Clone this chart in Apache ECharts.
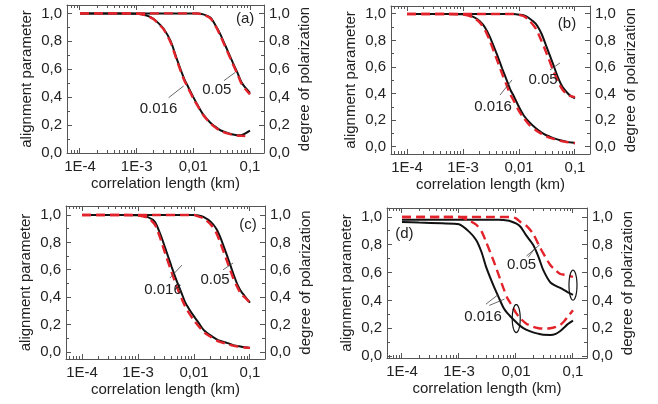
<!DOCTYPE html>
<html><head><meta charset="utf-8">
<script src="https://cdn.jsdelivr.net/npm/echarts@6/dist/echarts.min.js"></script>
<style>html,body{margin:0;padding:0;background:#fff}#c{width:658px;height:404px}</style>
</head><body><div id="c"></div>
<script>
// ---- data ----
const xKm = [1e-4, 2e-4, 5e-4, 1e-3, 1.5e-3, 2e-3, 2.5e-3, 3e-3, 4e-3, 5e-3, 6e-3, 7e-3, 8e-3,
             1e-2, 1.2e-2, 1.5e-2, 2e-2, 2.5e-2, 3e-2, 4e-2, 5e-2, 6e-2, 7e-2, 8e-2, 1e-1];
const xTickValues = [1e-4, 1e-3, 1e-2, 1e-1];
const xTickLabels = ['1E-4', '1E-3', '0,01', '0,1'];
const yTickValues = [0, 0.2, 0.4, 0.6, 0.8, 1.0];

const a016Black = [1,1,1,0.998,0.985,0.96,0.925,0.89,0.80,0.685,0.595,0.525,0.478,0.40,0.34,0.275,0.217,0.185,0.163,0.143,0.133,0.128,0.128,0.137,0.16];
const a016Red   = [1,1,1,0.998,0.984,0.958,0.92,0.885,0.79,0.675,0.585,0.515,0.47,0.39,0.335,0.27,0.213,0.18,0.16,0.14,0.13,0.125,0.123,0.122,0.12];
const a05Black  = [1,1,1,1,1,1,1,1,1,1,1,1,1,1,1,0.993,0.97,0.91,0.85,0.735,0.645,0.575,0.51,0.475,0.43];
const a05Red    = [1,1,1,1,1,1,1,1,1,1,1,1,1,1,0.999,0.99,0.965,0.905,0.84,0.725,0.635,0.565,0.50,0.465,0.42];

const b016Black = [1,1,1,0.997,0.98,0.945,0.895,0.83,0.70,0.59,0.505,0.43,0.385,0.30,0.24,0.19,0.14,0.11,0.09,0.068,0.055,0.046,0.04,0.036,0.03];
const b016Red   = [1,1,1,0.995,0.975,0.935,0.875,0.80,0.66,0.55,0.465,0.395,0.35,0.27,0.22,0.17,0.125,0.10,0.082,0.062,0.05,0.042,0.037,0.034,0.028];
const b05Black  = [1,1,1,1,1,1,1,1,1,1,1,1,1,0.995,0.99,0.97,0.925,0.855,0.77,0.63,0.52,0.45,0.415,0.39,0.365];
const b05Red    = [1,1,1,1,1,1,1,1,1,1,1,1,1,0.993,0.985,0.955,0.89,0.80,0.72,0.585,0.49,0.43,0.40,0.385,0.375];

const c016Black = [1,1,1,0.998,0.985,0.95,0.86,0.77,0.62,0.51,0.43,0.36,0.32,0.26,0.215,0.16,0.12,0.095,0.08,0.065,0.05,0.044,0.038,0.035,0.03];
const c016Red   = [1,1,1,0.997,0.98,0.93,0.83,0.73,0.58,0.47,0.39,0.33,0.29,0.23,0.19,0.145,0.11,0.085,0.072,0.058,0.047,0.04,0.035,0.033,0.03];
const c05Black  = [1,1,1,1,1,1,1,1,1,1,1,1,1,1,0.997,0.985,0.95,0.90,0.83,0.69,0.575,0.49,0.44,0.41,0.36];
const c05Red    = [1,1,1,1,1,1,1,1,1,1,1,1,1,1,0.99,0.975,0.93,0.87,0.79,0.65,0.54,0.47,0.42,0.40,0.36];

const d016Black = [0.965,0.96,0.955,0.948,0.895,0.835,0.745,0.64,0.51,0.42,0.35,0.31,0.285,0.245,0.215,0.19,0.17,0.16,0.153,0.152,0.16,0.18,0.205,0.228,0.255];
const d016Red   = [1,1,1,1,0.975,0.945,0.895,0.82,0.69,0.58,0.49,0.42,0.38,0.31,0.27,0.235,0.21,0.20,0.198,0.20,0.21,0.225,0.25,0.28,0.33];
const d05Black  = [0.98,0.98,0.98,0.98,0.98,0.98,0.98,0.98,0.98,0.98,0.978,0.975,0.97,0.955,0.93,0.87,0.80,0.71,0.62,0.53,0.505,0.49,0.475,0.46,0.44];
const d05Red    = [1,1,1,1,1,1,1,1,1,1,1,1,1,0.99,0.965,0.94,0.88,0.80,0.74,0.655,0.615,0.59,0.585,0.58,0.57];

const panelLetters = ['(a)', '(b)', '(c)', '(d)'];
const curveLabels = ['0.016', '0.05'];
const xTitle = 'correlation length (km)';
const yLeftTitle = 'alignment parameter';
const yRightTitle = 'degree of polarization';

// ---- layout ----
const panels = [
  {series: [a016Black, a016Red, a05Black, a05Red], left: 67, top: 5, width: 197, height: 148, xlog: [-4.229, -0.753], y: [0, 1.06]},
  {series: [b016Black, b016Red, b05Black, b05Red], left: 391, top: 6, width: 199, height: 148, xlog: [-4.286, -0.732], y: [-0.053, 1.06]},
  {series: [c016Black, c016Red, c05Black, c05Red], left: 66, top: 206, width: 199, height: 153, xlog: [-4.286, -0.732], y: [-0.051, 1.066]},
  {series: [d016Black, d016Red, d05Black, d05Red], left: 387, top: 208, width: 200, height: 150, xlog: [-4.263, -0.754], y: [-0.014, 1.065]}
];
// annotation anchors (data coordinates) per panel
const annot = [
  {letter: [0.0818, 0.964], t016: [2.43e-3, 0.317], l016: [[[3.66e-3, 0.396], [6.76e-3, 0.48]]],
   t05: [0.026, 0.453], l05: [[[0.0347, 0.518], [0.0543, 0.576]]]},
  {letter: [0.072, 0.925], t016: [3.44e-3, 0.30], l016: [[[4.57e-3, 0.39], [7.5e-3, 0.504]]],
   t05: [0.0268, 0.504], l05: [[[0.0358, 0.579], [0.054, 0.632]]]},
  {letter: [0.092, 0.927], t016: [2.79e-3, 0.453], l016: [[[3.7e-3, 0.54], [6.1e-3, 0.635]]],
   t05: [0.0237, 0.526], l05: [[[0.033, 0.60], [0.05, 0.65]]]},
  {letter: [1.1e-4, 0.88], t016: [2.64e-3, 0.281], l016: [[[2.97e-3, 0.373], [4.9e-3, 0.443]], [[3.4e-3, 0.364], [6.3e-3, 0.41]]],
   t05: [0.0125, 0.653], l05: [[[0.0153, 0.72], [0.026, 0.80]], [[0.0164, 0.71], [0.021, 0.77]]],
   ellipses: [[0.0101, 0.27, 4, 14], [0.1, 0.51, 4, 15]]}
];

const FONT = 'Liberation Sans, Arial, sans-serif';
const TXT = '#222222';
const AX = '#555555';
const RED = '#e3232b';
const BLK = '#111111';

const minorX = [];
[1e-5, 1e-4, 1e-3, 1e-2, 1e-1].forEach(d => { for (let k = 2; k <= 9; k++) minorX.push(+(d * k).toPrecision(3)); });
const minorY = [0.1, 0.3, 0.5, 0.7, 0.9];

const grids = [], xAxes = [], yAxes = [], series = [];
panels.forEach((p, i) => {
  grids.push({left: p.left, top: p.top, width: p.width, height: p.height, outerBoundsMode: 'none', containLabel: false});
  const xmin = Math.pow(10, p.xlog[0]), xmax = Math.pow(10, p.xlog[1]);
  const baseX = {type: 'log', logBase: 10, gridIndex: i, min: xmin, max: xmax, splitLine: {show: false},
    axisLine: {show: true, onZero: false, lineStyle: {color: AX, width: 1}},
    axisTick: {show: false}};
  xAxes.push(Object.assign({}, baseX, {position: 'bottom',
    name: xTitle, nameLocation: 'middle', nameGap: 23,
    nameTextStyle: {fontFamily: FONT, fontSize: 15, color: TXT, verticalAlign: 'top'},
    axisLabel: {show: true, margin: 6, fontFamily: FONT, fontSize: 15, color: TXT, showMinLabel: false, showMaxLabel: false,
      formatter: v => { const e = Math.log10(v); const r = Math.round(e);
        if (Math.abs(e - r) > 1e-6) return ''; const k = xTickValues.findIndex(t => Math.round(Math.log10(t)) === r); return k >= 0 ? xTickLabels[k] : ''; }}}));
  xAxes.push(Object.assign({}, baseX, {position: 'top', axisLabel: {show: false}}));

  const baseY = {type: 'value', gridIndex: i, min: p.y[0], max: p.y[1], splitLine: {show: false},
    axisLine: {show: true, onZero: false, lineStyle: {color: AX, width: 1}},
    axisTick: {show: false},
    nameLocation: 'middle', nameRotate: 90, nameGap: 33,
    nameTextStyle: {fontFamily: FONT, fontSize: 15, color: TXT},
    axisLabel: {show: true, margin: 5, fontFamily: FONT, fontSize: 15, color: TXT, customValues: yTickValues,
      formatter: v => v.toFixed(1).replace('.', ',')}};
  yAxes.push(Object.assign({}, baseY, {position: 'left', name: yLeftTitle}));
  yAxes.push(Object.assign({}, baseY, {position: 'right', name: yRightTitle}));

  p.series.forEach((vals, s) => {
    const isRed = s % 2 === 1;
    series.push({type: 'line', xAxisIndex: 2 * i, yAxisIndex: 2 * i, data: xKm.map((x, j) => [x, vals[j]]),
      showSymbol: false, symbol: 'none', smooth: 0.25, silent: true, animation: false, z: isRed ? 3 : 2,
      lineStyle: isRed ? {color: RED, width: 2.4, type: [9, 5]} : {color: BLK, width: 2}});
  });
});

const chart = echarts.init(document.getElementById('c'), null, {renderer: 'canvas'});
chart.setOption({animation: false, backgroundColor: '#fff', grid: grids, xAxis: xAxes, yAxis: yAxes, series: series});

// ticks and annotations placed via axis conversion
const gfx = [];
const toPx = (i, pt) => chart.convertToPixel({xAxisIndex: 2 * i, yAxisIndex: 2 * i}, pt);
const crisp = v => Math.round(v - 0.5) + 0.5;
const seg = (x1, y1, x2, y2, w, c, z) => ({type: 'line', silent: true, z: z || 6,
  shape: {x1: x1, y1: y1, x2: x2, y2: y2}, style: {stroke: c || AX, lineWidth: w || 1}});
const textEl = (pos, str) => ({type: 'text', x: pos[0], y: pos[1], silent: true, z: 10,
  style: {text: str, fontFamily: FONT, fontSize: 15, fill: TXT, align: 'center', verticalAlign: 'middle'}});
panels.forEach((p, i) => {
  const xmin = Math.pow(10, p.xlog[0]), xmax = Math.pow(10, p.xlog[1]);
  const addX = (v, len) => {
    const b = toPx(i, [v, p.y[0]]), t = toPx(i, [v, p.y[1]]);
    const x = crisp(b[0]);
    gfx.push(seg(x, b[1], x, b[1] - len));
    gfx.push(seg(x, t[1], x, t[1] + len));
  };
  minorX.filter(v => v > xmin * 1.05 && v < xmax / 1.05).forEach(v => addX(v, 3));
  xTickValues.forEach(v => addX(v, 5));
  const addY = (v, len) => {
    const l = toPx(i, [xmin, v]), r = toPx(i, [xmax, v]);
    const y = crisp(l[1]);
    gfx.push(seg(l[0], y, l[0] + len, y));
    gfx.push(seg(r[0], y, r[0] - len, y));
  };
  yTickValues.forEach(v => addY(v, 5));
  minorY.forEach(v => addY(v, 3));
});
annot.forEach((a, i) => {
  gfx.push(textEl(toPx(i, a.letter), panelLetters[i]));
  gfx.push(textEl(toPx(i, a.t016), curveLabels[0]));
  gfx.push(textEl(toPx(i, a.t05), curveLabels[1]));
  a.l016.concat(a.l05).forEach(sg => {
    const p1 = toPx(i, sg[0]), p2 = toPx(i, sg[1]);
    gfx.push(seg(p1[0], p1[1], p2[0], p2[1], 0.8, '#444', 10));
  });
  (a.ellipses || []).forEach(e => {
    const c = toPx(i, [e[0], e[1]]);
    const pts = [];
    for (let k = 0; k < 48; k++) { const t = k / 48 * 2 * Math.PI; pts.push([c[0] + e[2] * Math.cos(t), c[1] + e[3] * Math.sin(t)]); }
    gfx.push({type: 'polygon', silent: true, z: 10, shape: {points: pts}, style: {fill: 'none', stroke: '#111', lineWidth: 1.2}});
  });
});
chart.setOption({graphic: {elements: gfx}});
</script>
</body></html>
